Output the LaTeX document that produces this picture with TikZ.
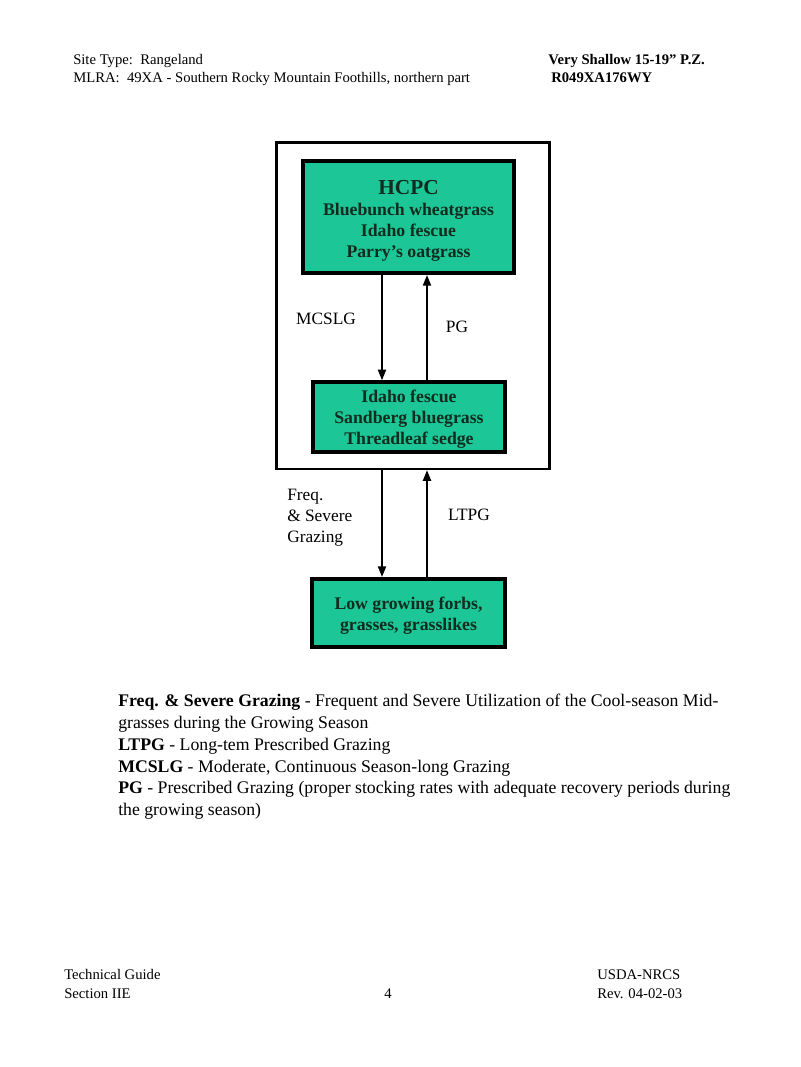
\documentclass[tikz,border=0pt]{standalone}
\usepackage{fontspec}
\setmainfont{Liberation Serif}
\usetikzlibrary{arrows.meta}
\definecolor{stategreen}{RGB}{28,198,150}
\definecolor{statetext}{RGB}{16,44,30}
\newcommand{\topgap}[1]{\rule{0pt}{#1}}
\tikzset{
  statebox/.style={draw=black, line width=3pt, fill=stategreen, text=statetext,
    font=\fontsize{13.3}{15.75}\selectfont\bfseries, align=center, inner sep=0pt},
  trans/.style={-{Triangle[length=8pt,width=6pt]}, line width=1.5pt},
  lbl/.style={font=\fontsize{13}{15.75}\selectfont, align=left, inner sep=0pt},
  hdr/.style={font=\fontsize{11}{13.5}\selectfont, anchor=base west, inner sep=0pt}
}
\begin{document}
\begin{tikzpicture}[x=0.75pt, y=-0.75pt]
\useasboundingbox (0,0) rectangle (800,1067);

\coordinate (dn) at (382, 0);
\coordinate (up) at (427, 0);

\node[hdr] (site) at (73, 64) {Site Type:\ \ Rangeland};
\node[hdr] (mlra) at (73, 82) {MLRA:\ \ 49XA - Southern Rocky Mountain Foothills, northern part};
\node[hdr, font=\fontsize{11}{13.5}\selectfont\bfseries] (pz) at (548, 64) {Very Shallow 15-19'' P.Z.};
\node[hdr, font=\fontsize{11}{13.5}\selectfont\bfseries] (site id) at (551, 82) {R049XA176WY};

\node[draw=black, line width=2pt, minimum width=205pt, minimum height=245pt, inner sep=0pt] (frame) at (413, 305.5) {};

\node[statebox, minimum width=158pt, minimum height=84pt] (hcpc) at (408.5, 217)
  {{\fontsize{16}{18}\selectfont\topgap{16.5pt}HCPC}\\Bluebunch wheatgrass\\Idaho fescue\\Parry’s oatgrass};
\node[statebox, minimum width=144pt, minimum height=52pt] (idaho) at (409, 417)
  {\topgap{12.5pt}Idaho fescue\\Sandberg bluegrass\\Threadleaf sedge};
\node[statebox, minimum width=145pt, minimum height=51pt] (low) at (408.5, 613)
  {\topgap{14pt}Low growing forbs,\\grasses, grasslikes};

\draw[trans] (hcpc.south -| dn) -- (idaho.north -| dn);
\draw[trans] (idaho.north -| up) -- (hcpc.south -| up);
\draw[trans] (frame.south -| dn) -- (low.north -| dn);
\draw[trans] (low.north -| up) -- (frame.south -| up);

\node[lbl] (mcslg) at (326, 319) {MCSLG};
\node[lbl] (pg) at (457, 327) {PG};
\node[lbl, anchor=west] (freq) at (287, 518) {Freq.\\\& Severe\\Grazing};
\node[lbl] (ltpg) at (469, 515) {LTPG};

\node[lbl, font=\fontsize{13.3}{16.35}\selectfont, anchor=north west] (legend) at (118, 694)
  {\textbf{Freq. \& Severe Grazing} - Frequent and Severe Utilization of the Cool-season Mid-\\
   grasses during the Growing Season\\
   \textbf{LTPG} - Long-tem Prescribed Grazing\\
   \textbf{MCSLG} - Moderate, Continuous Season-long Grazing\\
   \textbf{PG} - Prescribed Grazing (proper stocking rates with adequate recovery periods during\\
   the growing season)};

\node[hdr] (guide) at (64, 979) {Technical Guide};
\node[hdr] (section) at (64, 998) {Section IIE};
\node[hdr, anchor=base] (page) at (388, 998) {4};
\node[hdr] (agency) at (597, 979) {USDA-NRCS};
\node[hdr] (rev) at (597, 998) {Rev. 04-02-03};
\end{tikzpicture}
\end{document}
